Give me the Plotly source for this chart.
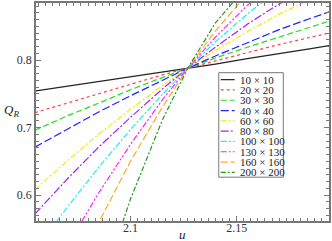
import plotly.graph_objects as go

u = [2.055, 2.07, 2.085, 2.10, 2.115, 2.127, 2.14, 2.155, 2.17, 2.185, 2.195]

q_10 = [0.754, 0.761, 0.768, 0.775, 0.782, 0.788, 0.794, 0.802, 0.809, 0.817, 0.822]
q_20 = [0.722, 0.736, 0.751, 0.764, 0.778, 0.788, 0.799, 0.811, 0.823, 0.834, 0.841]
q_30 = [0.696, 0.717, 0.736, 0.756, 0.774, 0.788, 0.803, 0.819, 0.834, 0.849, 0.859]
q_40 = [0.671, 0.697, 0.723, 0.747, 0.770, 0.788, 0.806, 0.826, 0.845, 0.862, 0.873]
q_60 = [0.608, 0.650, 0.690, 0.727, 0.762, 0.788, 0.814, 0.842, 0.868, 0.891, 0.905]
q_80 = [0.572, 0.623, 0.671, 0.715, 0.757, 0.788, 0.819, 0.853, 0.883, 0.910, 0.926]
q_100 = [0.517, 0.581, 0.641, 0.697, 0.749, 0.788, 0.827, 0.868, 0.905, 0.938, 0.957]
q_130 = [0.437, 0.524, 0.603, 0.675, 0.741, 0.788, 0.834, 0.881, 0.920, 0.953, 0.971]
q_160 = [0.348, 0.458, 0.559, 0.650, 0.730, 0.788, 0.843, 0.898, 0.942, 0.976, 0.994]
q_200 = [0.105, 0.291, 0.454, 0.594, 0.711, 0.788, 0.855, 0.910, 0.942, 0.951, 0.944]

names = ["10 × 10", "20 × 20", "30 × 30", "40 × 40", "60 × 60",
         "80 × 80", "100 × 100", "130 × 130", "160 × 160", "200 × 200"]
series = [q_10, q_20, q_30, q_40, q_60, q_80, q_100, q_130, q_160, q_200]
colors = ["#222222", "#ff4444", "#22dd22", "#2222ff", "#eeee11",
          "#aa22ee", "#22eeee", "#ff22ff", "#ffaa22", "#229922"]
dashes = ["solid", "dot", "6px,3px", "8px,3px", "6px,2px,2px,2px",
          "8px,2px,2px,2px", "6px,2px,2px,2px", "6px,2px,2px,2px,2px,2px", "7px,3px", "5px,2px,2px,2px"]

W, H = 332, 241
ML, MR, MT, MB = 36, 1, 2, 20
PW, PH = W - ML - MR, H - MT - MB


def px_x(p):
    return (p - ML) / PW


def px_y(p):
    return (H - MB - p) / PH


fig = go.Figure()
for nm, q, c, d in zip(names, series, colors, dashes):
    fig.add_trace(go.Scatter(x=u, y=q, mode="lines", name=nm, showlegend=False,
                             line=dict(color=c, dash=d, width=1.2)))

axis_common = dict(
    showline=True, linecolor="#777777", linewidth=1.5, mirror="allticks",
    ticks="inside", ticklen=5, tickcolor="#777777", tickwidth=1,
    showgrid=False, zeroline=False,
    tickfont=dict(family="Liberation Serif", size=12, color="#333333"),
)

fig.update_xaxes(range=[2.0555, 2.1935], tickvals=[2.1, 2.15], ticktext=["2.1", "2.15"],
                 ticklabelstandoff=-5,
                 minor=dict(ticks="inside", ticklen=3, dtick=0.05 / 15, tick0=2.1,
                            tickcolor="#777777", showgrid=False),
                 **axis_common)
fig.update_yaxes(range=[0.5615, 0.8845], tickvals=[0.6, 0.7, 0.8], ticktext=["0.6", "0.7", "0.8"],
                 minor=dict(ticks="inside", ticklen=3, dtick=0.01, tick0=0.6,
                            tickcolor="#777777", showgrid=False),
                 **axis_common)

fig.add_annotation(text="<i>Q</i><sub><i>R</i></sub>", xref="paper", yref="paper",
                   x=px_x(2), y=px_y(110), showarrow=False, xanchor="left", yanchor="middle",
                   font=dict(family="Liberation Serif", size=13, color="#222222"))
fig.add_annotation(text="<i>u</i>", xref="paper", yref="paper",
                   x=px_x(183), y=px_y(235), showarrow=False, xanchor="center", yanchor="middle",
                   font=dict(family="Liberation Serif", size=13, color="#222222"))

# custom compact legend
fig.add_shape(type="rect", xref="paper", yref="paper",
              x0=px_x(220), x1=px_x(285), y0=px_y(177), y1=px_y(72),
              line=dict(color="#777777", width=1), fillcolor="white", layer="above")
for i, (nm, c, d) in enumerate(zip(names, colors, dashes)):
    yc = 79 + 10.35 * i
    fig.add_shape(type="line", xref="paper", yref="paper",
                  x0=px_x(222), x1=px_x(236), y0=px_y(yc), y1=px_y(yc),
                  line=dict(color=c, dash=d, width=1.2), layer="above")
    fig.add_annotation(text=nm, xref="paper", yref="paper", x=px_x(239), y=px_y(yc),
                       xanchor="left", yanchor="middle", showarrow=False,
                       font=dict(family="Liberation Serif", size=11, color="#222222"))

fig.update_layout(
    width=W, height=H,
    margin=dict(l=ML, r=MR, t=MT, b=MB),
    plot_bgcolor="white", paper_bgcolor="white",
    showlegend=False,
)

fig.write_html("out.html", config={"displayModeBar": False},
               post_script="document.body.style.margin='0';document.body.style.overflow='hidden';")
